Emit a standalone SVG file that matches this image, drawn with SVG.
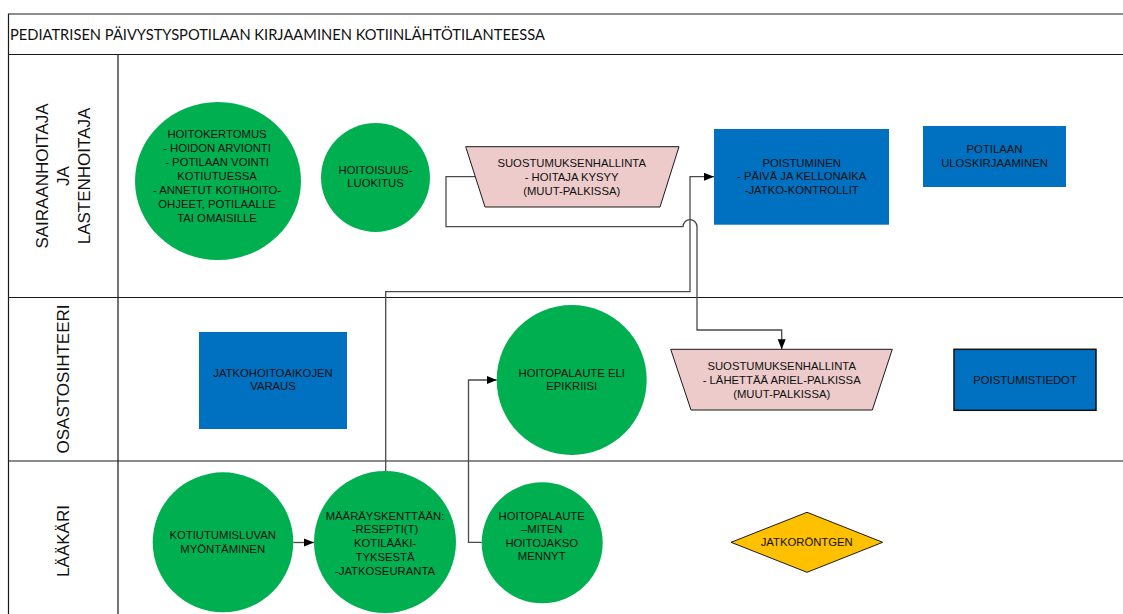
<svg xmlns="http://www.w3.org/2000/svg" width="1123" height="614" viewBox="0 0 1123 614">
  <style>
    .frame { fill: none; stroke: #1a1a1a; stroke-width: 1.2; }
    .lane { font-family: "Liberation Sans", Arial, sans-serif; font-size: 17px; fill: #111; text-anchor: middle; }
    .title { font-family: Lato, "Liberation Sans", sans-serif; font-size: 14.5px; fill: #111; }
    .t { font-family: "Liberation Sans", Arial, sans-serif; font-size: 11.3px; fill: #111; text-anchor: middle; }
    .green { fill: #00B050; }
    .blue { fill: #0070C0; }
    .pink { fill: #ECCBCA; stroke: #1a1a1a; stroke-width: 1; }
    .gold { fill: #FFC000; stroke: #1a1a1a; stroke-width: 1; }
    .conn { fill: none; stroke: #4a4a4a; stroke-width: 1.3; }
  </style>
  <defs>
    <marker id="arrow" markerUnits="userSpaceOnUse" markerWidth="10" markerHeight="10" viewBox="0 0 10 10" refX="10" refY="5" orient="auto">
      <path d="M0,1 L10,5 L0,9 Z" fill="#000"/>
    </marker>
  </defs>
  <rect x="0" y="0" width="1123" height="614" fill="#fff"/>

  <!-- pool frame and lanes -->
  <g id="pool">
    <path class="frame" d="M1123,14 H8.5 V614 M8.5,54.5 H1123 M8.5,297.5 H1123 M8.5,461 H1123 M118,54.5 V614"/>
    <text class="title" x="10" y="40" textLength="535" lengthAdjust="spacingAndGlyphs">PEDIATRISEN PÄIVYSTYSPOTILAAN KIRJAAMINEN KOTIINLÄHTÖTILANTEESSA</text>
  </g>
  <g id="lane-hoitajat">
    <text class="lane" transform="translate(42,176) rotate(-90)" y="6">SAIRAANHOITAJA</text>
    <text class="lane" transform="translate(63,176) rotate(-90)" y="6">JA</text>
    <text class="lane" transform="translate(84,176) rotate(-90)" y="6">LASTENHOITAJA</text>
  </g>
  <g id="lane-osastosihteeri">
    <text class="lane" transform="translate(63,379) rotate(-90)" y="6">OSASTOSIHTEERI</text>
  </g>
  <g id="lane-laakari">
    <text class="lane" transform="translate(63,541) rotate(-90)" y="6">LÄÄKÄRI</text>
  </g>

  <!-- connectors -->
  <g id="connectors">
    <path class="conn" d="M385.7,471 V291.7 H690 V176.7 H714" marker-end="url(#arrow)"/>
    <path class="conn" d="M475.3,176.7 H446 V226.7 H683 A7,7 0 0 1 697,226.7 V330 H781.7 V349.3" marker-end="url(#arrow)"/>
    <path class="conn" d="M481.7,542.3 H468.5 V380 H496.7" marker-end="url(#arrow)"/>
    <path class="conn" d="M293.3,542.5 H314" marker-end="url(#arrow)"/>
  </g>

  <!-- nurse lane -->
  <g id="hoitokertomus">
    <ellipse class="green" cx="218" cy="181" rx="83" ry="79"/>
    <text class="t" x="217" y="138">HOITOKERTOMUS</text>
    <text class="t" x="217" y="152">- HOIDON ARVIONTI</text>
    <text class="t" x="217" y="166">- POTILAAN VOINTI</text>
    <text class="t" x="217" y="180">KOTIUTUESSA</text>
    <text class="t" x="217" y="194">- ANNETUT KOTIHOITO-</text>
    <text class="t" x="217" y="208">OHJEET, POTILAALLE</text>
    <text class="t" x="217" y="222">TAI OMAISILLE</text>
  </g>
  <g id="hoitoisuusluokitus">
    <circle class="green" cx="375.5" cy="177.5" r="54.5"/>
    <text class="t" x="375.5" y="174">HOITOISUUS-</text>
    <text class="t" x="375.5" y="187">LUOKITUS</text>
  </g>
  <g id="suostumus-hoitaja">
    <polygon class="pink" points="465.7,146.7 679,146.7 660,207 485,207"/>
    <text class="t" x="571.7" y="167">SUOSTUMUKSENHALLINTA</text>
    <text class="t" x="571.7" y="181">- HOITAJA KYSYY</text>
    <text class="t" x="571.7" y="195">(MUUT-PALKISSA)</text>
  </g>
  <g id="poistuminen">
    <rect class="blue" x="714" y="129" width="175" height="95.7"/>
    <text class="t" x="801.7" y="166.7">POISTUMINEN</text>
    <text class="t" x="801.7" y="180">- PÄIVÄ JA KELLONAIKA</text>
    <text class="t" x="801.7" y="194">-JATKO-KONTROLLIT</text>
  </g>
  <g id="uloskirjaaminen">
    <rect class="blue" x="923" y="126" width="143" height="61"/>
    <text class="t" x="994.5" y="153">POTILAAN</text>
    <text class="t" x="994.5" y="166.7">ULOSKIRJAAMINEN</text>
  </g>

  <!-- ward secretary lane -->
  <g id="jatkohoitoaikojen-varaus">
    <rect class="blue" x="199" y="332" width="148" height="97"/>
    <text class="t" x="273" y="376.7">JATKOHOITOAIKOJEN</text>
    <text class="t" x="273" y="390">VARAUS</text>
  </g>
  <g id="epikriisi">
    <circle class="green" cx="571.7" cy="380" r="75"/>
    <text class="t" x="571.7" y="376.7">HOITOPALAUTE ELI</text>
    <text class="t" x="571.7" y="390">EPIKRIISI</text>
  </g>
  <g id="suostumus-lahettaa">
    <polygon class="pink" points="670.7,349.3 892.3,349.3 872.3,410 691,410"/>
    <text class="t" x="781.7" y="369.5">SUOSTUMUKSENHALLINTA</text>
    <text class="t" x="781.7" y="383.5">- LÄHETTÄÄ ARIEL-PALKISSA</text>
    <text class="t" x="781.7" y="397.5">(MUUT-PALKISSA)</text>
  </g>
  <g id="poistumistiedot">
    <rect class="blue" x="954" y="349.3" width="142" height="61" stroke="#111" stroke-width="1.5"/>
    <text class="t" x="1025" y="384">POISTUMISTIEDOT</text>
  </g>

  <!-- doctor lane -->
  <g id="kotiutumislupa">
    <ellipse class="green" cx="223" cy="542.3" rx="70.3" ry="70"/>
    <text class="t" x="222.7" y="539">KOTIUTUMISLUVAN</text>
    <text class="t" x="222.7" y="553">MYÖNTÄMINEN</text>
  </g>
  <g id="maarayskentta">
    <circle class="green" cx="385" cy="542" r="71"/>
    <text class="t" x="385" y="519.7">MÄÄRÄYSKENTTÄÄN:</text>
    <text class="t" x="385" y="533.4">-RESEPTI(T)</text>
    <text class="t" x="385" y="547.1">KOTILÄÄKI-</text>
    <text class="t" x="385" y="560.8">TYKSESTÄ</text>
    <text class="t" x="385" y="574.5">-JATKOSEURANTA</text>
  </g>
  <g id="hoitopalaute">
    <circle class="green" cx="542.2" cy="542.8" r="60.5"/>
    <text class="t" x="541.7" y="519.7">HOITOPALAUTE</text>
    <text class="t" x="541.7" y="533.2">–MITEN</text>
    <text class="t" x="541.7" y="546.7">HOITOJAKSO</text>
    <text class="t" x="541.7" y="560.2">MENNYT</text>
  </g>
  <g id="jatkorontgen">
    <polygon class="gold" points="731,542.3 807,512.3 882.7,542.3 807,572.3"/>
    <text class="t" x="806.7" y="546.3">JATKORÖNTGEN</text>
  </g>
</svg>
